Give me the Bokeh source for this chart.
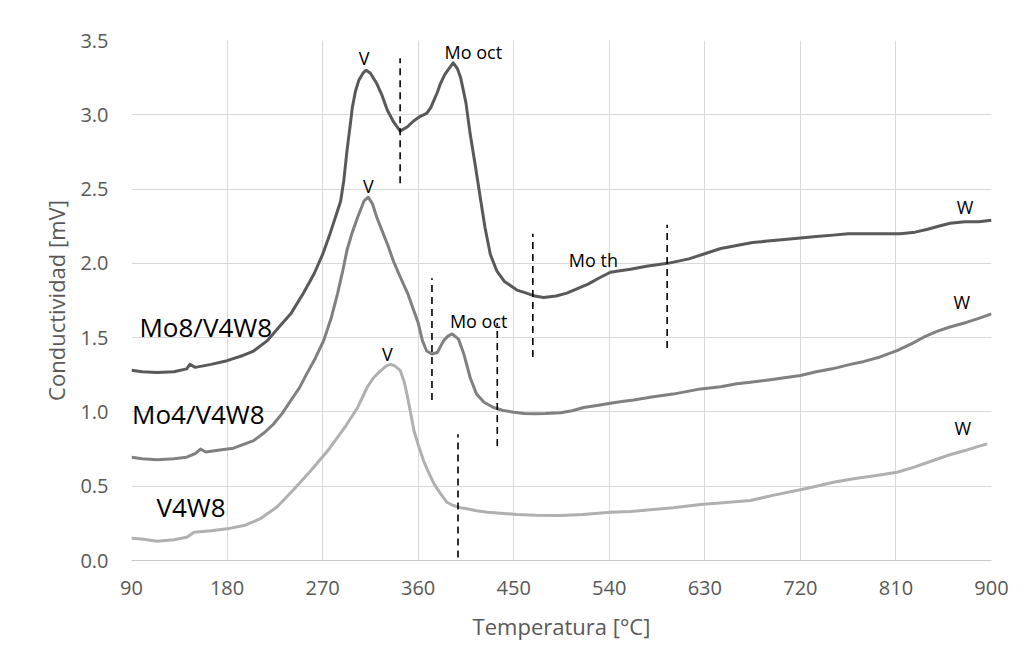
from bokeh.plotting import figure
from bokeh.models import Range1d, FixedTicker, PrintfTickFormatter
from bokeh.core.properties import value
from bokeh.embed import file_html
from bokeh.resources import INLINE

# ---------------- data ----------------
x_ticks = [90, 180, 270, 360, 450, 540, 630, 720, 810, 900]
y_ticks = [0.0, 0.5, 1.0, 1.5, 2.0, 2.5, 3.0, 3.5]

# Mo8/V4W8 (dark)
t_mo8 = [90, 100, 114, 130, 142, 145, 150, 165, 180, 195,
         205, 218, 230, 240, 252, 262, 270, 277, 283, 287,
         290, 293, 296, 298, 301, 304, 308, 311, 315, 321,
         326, 331, 337, 343, 350, 356, 362, 368, 372, 375,
         378, 381, 385, 389, 393, 397, 400, 405, 409, 414,
         419, 423, 428, 434, 441, 453, 462, 470, 478, 490,
         500, 510, 520, 530, 541, 550, 560, 575, 595, 615,
         632, 645, 660, 675, 689, 705, 720, 735, 751, 765,
         780, 795, 814, 828, 840, 850, 861, 875, 888, 900]
c_mo8 = [1.28, 1.27, 1.265, 1.27, 1.29, 1.32, 1.30, 1.32, 1.345, 1.38,
         1.41, 1.48, 1.58, 1.66, 1.80, 1.93, 2.06, 2.20, 2.33, 2.42,
         2.56, 2.76, 2.93, 3.05, 3.16, 3.23, 3.28, 3.30, 3.28, 3.21,
         3.13, 3.03, 2.95, 2.89, 2.92, 2.96, 2.99, 3.01, 3.05, 3.10,
         3.15, 3.21, 3.27, 3.31, 3.35, 3.31, 3.25, 3.08, 2.87, 2.65,
         2.42, 2.24, 2.06, 1.95, 1.88, 1.82, 1.80, 1.78, 1.77, 1.78,
         1.80, 1.83, 1.86, 1.90, 1.94, 1.95, 1.96, 1.98, 2.00, 2.03,
         2.07, 2.10, 2.12, 2.14, 2.15, 2.16, 2.17, 2.18, 2.19, 2.20,
         2.20, 2.20, 2.20, 2.21, 2.23, 2.25, 2.27, 2.28, 2.28, 2.29]

# Mo4/V4W8 (medium)
t_mo4 = [90, 100, 114, 130, 142, 150, 155, 160, 175, 186,
         195, 205, 215, 224, 232, 240, 248, 255, 263, 271,
         278, 284, 289, 293, 298, 303, 309, 313, 317, 321,
         326, 331, 337, 343, 350, 356, 360, 364, 368, 373,
         378, 384, 388, 392, 398, 403, 409, 415, 422, 431,
         440, 450, 460, 469, 480, 494, 505, 516, 530, 541,
         552, 563, 580, 600, 615, 626, 645, 660, 673, 690,
         705, 720, 735, 750, 767, 780, 795, 811, 825, 836,
         848, 860, 877, 888, 900]
c_mo4 = [0.695, 0.685, 0.678, 0.685, 0.695, 0.72, 0.75, 0.73, 0.745, 0.756,
         0.78, 0.807, 0.86, 0.92, 0.99, 1.077, 1.16, 1.256, 1.36, 1.48,
         1.63, 1.795, 1.95, 2.09, 2.21, 2.31, 2.42, 2.445, 2.40, 2.31,
         2.22, 2.13, 2.01, 1.91, 1.80, 1.68, 1.60, 1.48, 1.41, 1.39,
         1.40, 1.48, 1.51, 1.525, 1.49, 1.39, 1.23, 1.12, 1.065, 1.03,
         1.01, 0.998, 0.99, 0.988, 0.99, 0.995, 1.008, 1.03, 1.045, 1.058,
         1.07, 1.08, 1.10, 1.12, 1.14, 1.155, 1.17, 1.19, 1.20, 1.215,
         1.23, 1.245, 1.27, 1.29, 1.32, 1.34, 1.37, 1.413, 1.46, 1.503,
         1.54, 1.57, 1.604, 1.63, 1.66]

# V4W8 (light)
t_v4w8 = [90, 100, 114, 130, 142, 149, 165, 180, 196, 211,
          227, 243, 259, 275, 291, 303, 312, 318, 325, 330,
          334, 338, 343, 347, 350, 353, 356, 360, 365, 370,
          375, 381, 387, 393, 400, 406, 415, 425, 438, 453,
          470, 494, 515, 541, 560, 579, 600, 626, 650, 673,
          695, 720, 735, 751, 770, 790, 811, 828, 845, 860,
          875, 886, 896]
c_v4w8 = [0.15, 0.145, 0.13, 0.14, 0.157, 0.19, 0.20, 0.213, 0.235, 0.28,
          0.36, 0.48, 0.606, 0.74, 0.897, 1.03, 1.166, 1.23, 1.28, 1.31,
          1.32, 1.31, 1.28, 1.20, 1.10, 0.99, 0.875, 0.78, 0.673, 0.59,
          0.516, 0.45, 0.392, 0.37, 0.355, 0.348, 0.335, 0.325, 0.318, 0.31,
          0.305, 0.303, 0.31, 0.325, 0.33, 0.341, 0.355, 0.377, 0.39, 0.404,
          0.44, 0.476, 0.50, 0.527, 0.55, 0.57, 0.594, 0.63, 0.673, 0.71,
          0.74, 0.765, 0.785]

# dashed separators
sep_x = [343, 373, 434.5, 397.5, 468, 594.5]
sep_y0 = [2.54, 1.08, 0.77, 0.02, 1.37, 1.43]
sep_y1 = [3.38, 1.90, 1.60, 0.85, 2.20, 2.26]

# peak annotations
peak_text = ["V", "Mo oct", "V", "Mo oct", "V", "Mo th", "W", "W", "W"]
peak_x = [309, 412, 313, 417, 331, 525, 875, 872, 873]
peak_y = [3.383, 3.421, 2.524, 1.610, 1.391, 2.023, 2.382, 1.743, 0.890]

# sample names
name_text = ["Mo8/V4W8", "Mo4/V4W8", "V4W8"]
name_x = [97.5, 90.5, 113.5]
name_y = [1.57, 0.987, 0.359]

assert len(t_mo8) == len(c_mo8) and len(t_mo4) == len(c_mo4) and len(t_v4w8) == len(c_v4w8)

# ---------------- figure ----------------
FONT = "Open Sans"
p = figure(width=1019, height=661, x_range=Range1d(90, 900), y_range=Range1d(0, 3.5),
           output_backend="svg", toolbar_location=None,
           min_border_left=131, min_border_right=28, min_border_top=40, min_border_bottom=101)
p.outline_line_color = None
p.background_fill_color = "white"
p.border_fill_color = "white"

for ax in (p.xaxis, p.yaxis):
    ax.major_tick_line_color = None
    ax.minor_tick_line_color = None
    ax.major_label_text_font = FONT
    ax.major_label_text_font_size = "20px"
    ax.major_label_text_color = "#595959"
    ax.axis_label_text_font = FONT
    ax.axis_label_text_font_size = "22px"
    ax.axis_label_text_font_style = "normal"
    ax.axis_label_text_color = "#595959"

p.xaxis.ticker = FixedTicker(ticks=x_ticks)
p.yaxis.ticker = FixedTicker(ticks=y_ticks)
p.xaxis.formatter = PrintfTickFormatter(format="%d")
p.yaxis.formatter = PrintfTickFormatter(format="%.1f")
p.xaxis.axis_label = "Temperatura [°C]"
p.yaxis.axis_label = "Conductividad [mV]"
p.xaxis.major_label_standoff = 14
p.yaxis.major_label_standoff = 17
p.xaxis.axis_label_standoff = 13
p.yaxis.axis_label_standoff = 6
p.xaxis.axis_line_color = "#c8c8c8"
p.yaxis.axis_line_color = None

p.xgrid.grid_line_color = "#d9d9d9"
p.ygrid.grid_line_color = "#d9d9d9"

p.line(t_v4w8, c_v4w8, line_color="#b0b0b0", line_width=3, line_join="round")
p.line(t_mo4, c_mo4, line_color="#808080", line_width=3, line_join="round")
p.line(t_mo8, c_mo8, line_color="#595959", line_width=3, line_join="round")

p.segment(x0=sep_x, y0=sep_y0, x1=sep_x, y1=sep_y1, line_color="black",
          line_width=1.6, line_dash="7 5")

p.text(x=peak_x, y=peak_y, text=peak_text, text_font=value(FONT), text_font_size="18px",
       text_align="center", text_baseline="alphabetic", text_color="black")
p.text(x=name_x, y=name_y, text=name_text, text_font=value(FONT), text_font_size="26px",
       text_align="left", text_baseline="alphabetic", text_color="black")

open("out.html", "w").write(file_html(p, INLINE))
